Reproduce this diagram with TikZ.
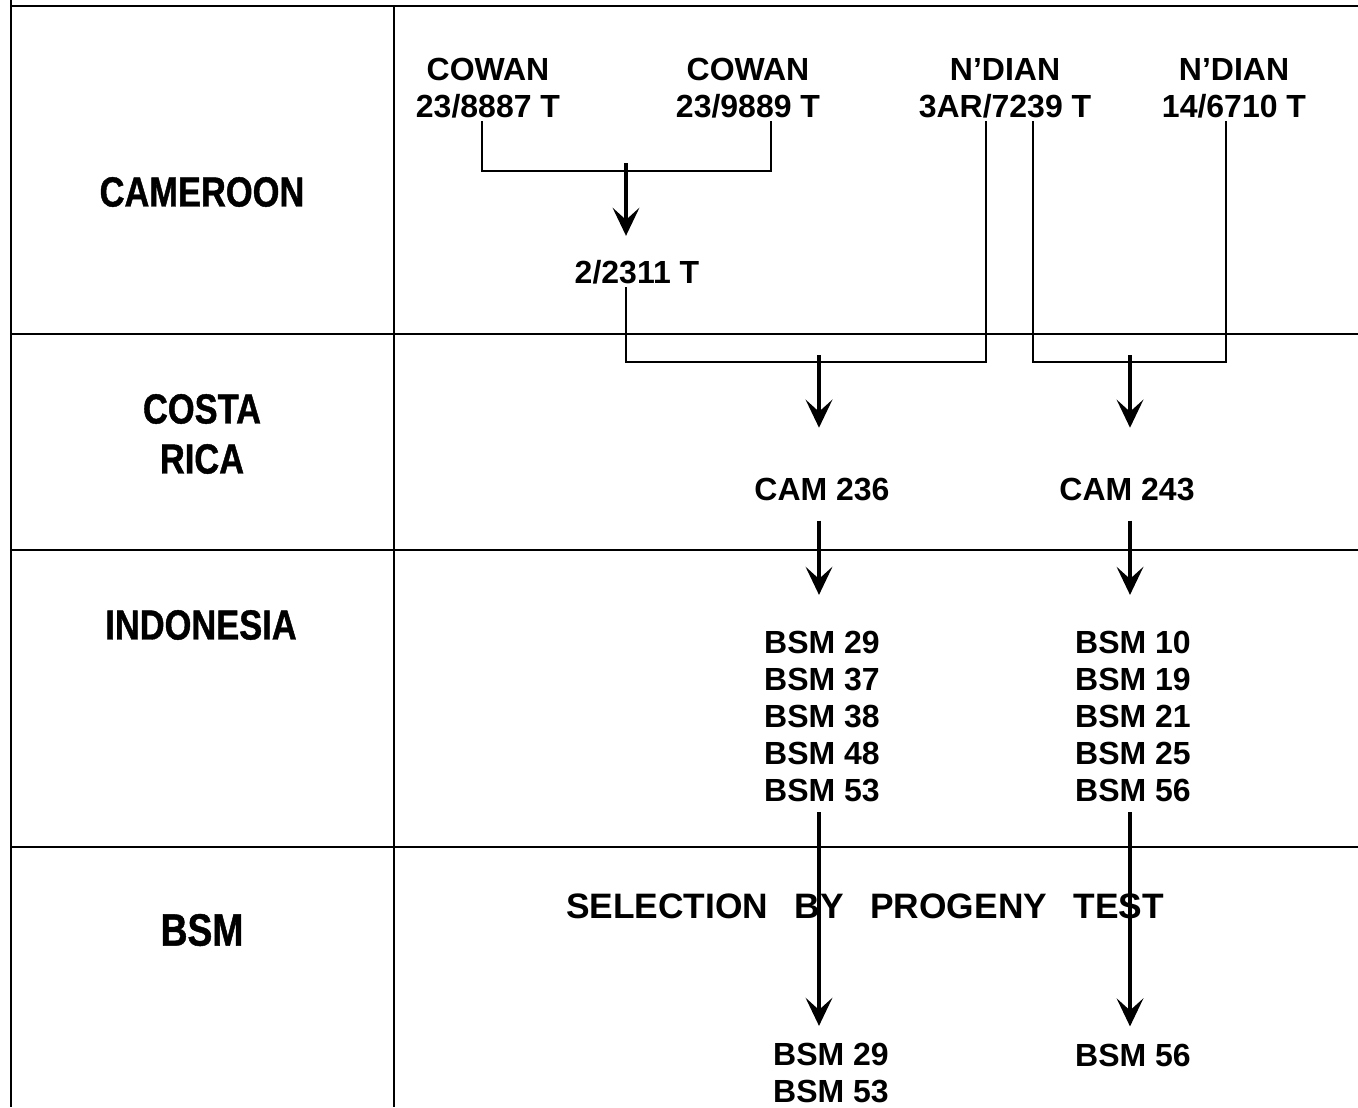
\documentclass[tikz,border=0pt]{standalone}
\usepackage{fontspec}
\setmainfont{Liberation Sans}
\newfontfamily\narrowfont[FakeStretch=0.82, FakeBold=1]{Liberation Sans}
\usetikzlibrary{arrows.meta, positioning}

\begin{document}
\begin{tikzpicture}[
                x=0.75pt, y=-0.75pt, % pixel-like coordinates, y downwards
                grid/.style={draw, line width=1.8pt},
                wire/.style={draw, line width=2.2pt},
                line/.style={draw, line width=2.8pt, -{Stealth[length=21pt, width=20pt, inset=9pt]}},
                country/.style={font=\narrowfont\bfseries\fontsize{31.5}{37.5}\selectfont, align=center},
                clone/.style={font=\bfseries\fontsize{24}{27.75}\selectfont, align=center, inner sep=2.25pt}
            ]
                \useasboundingbox (0,0) rectangle (1358,1107);

                % Table frame
                \draw[grid] (11,0) -- (11,1107);
                \draw[grid] (11,6) -- (1358,6);
                \draw[grid] (394,6) -- (394,1107);
                \foreach \y in {334,550,847}
                    \draw[grid] (11,\y) -- (1358,\y);

                % Countries
                \node [country] (L_cameroon) at (202,192) {CAMEROON};
                \node [country] (L_costa) at (202,434) {COSTA\\RICA};
                \node [country] (L_indonesia) at (201,625) {INDONESIA};
                \node [country, font=\narrowfont\bfseries\fontsize{34}{40}\selectfont] (L_bsm) at (202,930) {BSM};

                % Place nodes
                \node [clone] (C_cowanA) at (488,88) {COWAN\\23/8887 T};
                \node [clone] (C_cowanB) at (748,88) {COWAN\\23/9889 T};
                \node [clone] (C_ndianA) at (1005,88) {N’DIAN\\3AR/7239 T};
                \node [clone] (C_ndianB) at (1234,88) {N’DIAN\\14/6710 T};
                \node [clone] (C_2311) at (637,272) {2/2311 T};

                \node [clone] (R_cam236) at (822,489) {CAM 236};
                \node [clone] (R_cam243) at (1127,489) {CAM 243};

                \node [clone] (I_left) at (822,716.5) {BSM 29\\BSM 37\\BSM 38\\BSM 48\\BSM 53};
                \node [clone] (I_right) at (1133,716.5) {BSM 10\\BSM 19\\BSM 21\\BSM 25\\BSM 56};

                \node [clone, font=\bfseries\fontsize{26.5}{30}\selectfont] (T_sel) at (865,906)
                    {SELECTION\hspace{0.75em}BY\hspace{0.75em}PROGENY\hspace{0.75em}TEST};

                \node [clone] (B_left) at (831,1073) {BSM 29\\BSM 53};
                \node [clone] (B_right) at (1133,1055) {BSM 56};

                % Junctions of the crosses
                \coordinate (J_cowan) at (626,171);
                \coordinate (J_left) at (819,362);
                \coordinate (J_right) at (1130,362);

                % Draw edges
                \path [wire] ([xshift=-4.5pt]C_cowanA.south) |- (J_cowan) -| ([xshift=17.25pt]C_cowanB.south);
                \path [line] ([yshift=6pt]J_cowan) -- ([yshift=15.75pt]J_cowan |- C_2311.north);

                \path [wire] ([xshift=-8.25pt]C_2311.south) |- (J_left) -| ([xshift=-14.25pt]C_ndianA.south);
                \path [wire] ([xshift=21pt]C_ndianA.south) |- (J_right) -| ([xshift=-6pt]C_ndianB.south);

                \path [line] ([yshift=5.25pt]J_left) -- ([yshift=35pt]J_left |- R_cam236.north);
                \path [line] ([yshift=5.25pt]J_right) -- ([yshift=35pt]J_right |- R_cam243.north);

                \path [line] ([yshift=-12.75pt]J_left |- R_cam236.south) -- ([yshift=24.75pt]J_left |- I_left.north);
                \path [line] ([yshift=-12.75pt]J_right |- R_cam243.south) -- ([yshift=24.75pt]J_right |- I_right.north);

                \path [line] ([yshift=-5.25pt]J_left |- I_left.south) -- ([yshift=10.5pt]J_left |- B_left.north);
                \path [line] ([yshift=-5.25pt]J_right |- I_right.south) -- ([yshift=10.5pt]J_right |- B_right.north);

            \end{tikzpicture}
\end{document}
